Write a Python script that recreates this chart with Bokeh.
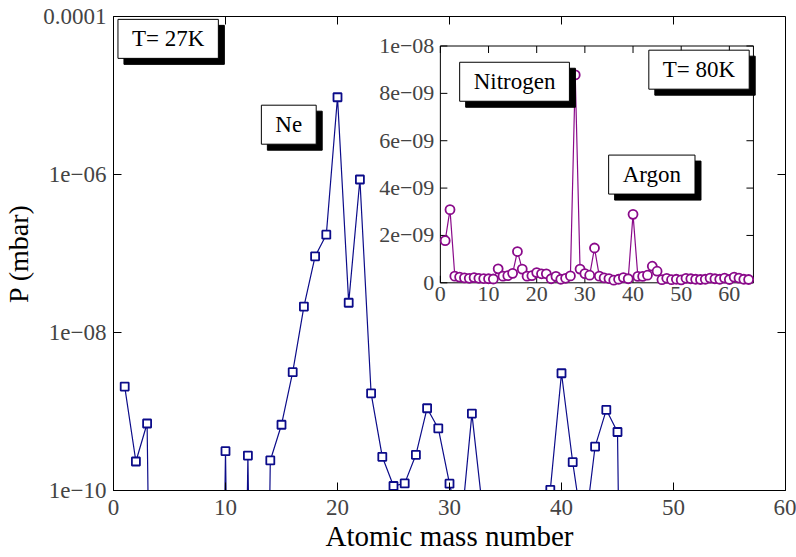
import math

from bokeh.plotting import figure
from bokeh.models import (Range1d, LinearScale, FixedTicker, CustomJSTickFormatter, Label)
from bokeh.embed import file_html
from bokeh.resources import INLINE
from bokeh.core.properties import value

# ---------------- data ----------------
# Mass spectrum at T = 27 K (log axis); 1e-20 marks channels below the detection floor
mass_27K = list(range(1, 61))
p_27K = [
    2.07e-9, 2.33e-10, 7.05e-10, 1e-20, 1e-20, 1e-20, 1e-20, 1e-20, 1e-20, 3.15e-10,
    1e-20, 2.77e-10, 1e-20, 2.4e-10, 6.8e-10, 3.15e-9, 2.13e-8, 9.2e-8, 1.73e-7, 9.5e-6,
    2.38e-8, 8.65e-7, 1.7e-9, 2.67e-10, 1.14e-10, 1.23e-10, 2.83e-10, 1.1e-9, 6.1e-10, 1.22e-10,
    3e-11, 9.4e-10, 5e-11, 1e-20, 1e-20, 1e-20, 1e-20, 1e-20, 1.02e-10, 3.05e-9,
    2.28e-10, 2.5e-11, 3.6e-10, 1.05e-9, 5.5e-10, 1e-20, 1e-20, 1e-20, 1e-20, 1e-20,
    1e-20, 1e-20, 1e-20, 1e-20, 1e-20, 1e-20, 1e-20, 1e-20, 1e-20, 1e-20,
]

# Mass spectrum at T = 80 K (linear inset)
mass_80K = list(range(1, 65))
p_80K = [
    1.78e-9, 3.09e-9, 2.8e-10, 2.4e-10, 2.1e-10, 1.9e-10, 2.2e-10, 1.9e-10, 1.8e-10, 1.7e-10,
    1.6e-10, 5.9e-10, 2.8e-10, 3.0e-10, 4.0e-10, 1.32e-9, 5.8e-10, 2.8e-10, 3.0e-10, 4.3e-10,
    3.8e-10, 3.8e-10, 1.7e-10, 2.7e-10, 1.5e-10, 1.9e-10, 2.9e-10, 8.78e-9, 5.8e-10, 3.9e-10,
    3.2e-10, 1.47e-9, 2.8e-10, 2.1e-10, 1.8e-10, 1.1e-10, 1.5e-10, 2.2e-10, 1.7e-10, 2.89e-9,
    2.7e-10, 2.7e-10, 3.2e-10, 7.0e-10, 4.9e-10, 1.3e-10, 1.9e-10, 1.3e-10, 1.5e-10, 1.2e-10,
    1.9e-10, 1.7e-10, 1.5e-10, 1.4e-10, 1.5e-10, 2.0e-10, 1.7e-10, 1.5e-10, 2.0e-10, 1.4e-10,
    2.4e-10, 2.0e-10, 1.5e-10, 1.4e-10,
]

main_x_range = (0, 60)
main_y_range = (1e-10, 1e-4)
main_x_ticks = [0, 10, 20, 30, 40, 50, 60]
main_y_ticks = [1e-10, 1e-8, 1e-6, 1e-4]
main_y_tick_labels = ["1e\u221210", "1e\u221208", "1e\u221206", "0.0001"]

inset_x_range = (0, 65)
inset_y_range = (0, 1e-8)
inset_x_ticks = [0, 10, 20, 30, 40, 50, 60]
inset_x_tick_labels = ["0", "10", "20", "30", "40", "50", "60"]
inset_y_ticks = [0, 2e-9, 4e-9, 6e-9, 8e-9, 1e-8]
inset_y_tick_labels = ["0", "2e\u221209", "4e\u221209", "6e\u221209", "8e\u221209", "1e\u221208"]

# ---------------- styling / layout ----------------
FONT = "Liberation Serif"
NAVY = "#0c0c8a"
PURPLE = "#8a0a8a"
TICK_GRAY = "#444444"

W, H = 796, 557
BORDER_L, BORDER_R, BORDER_T, BORDER_B = 108, 11, 16, 67
frame_l, frame_r = BORDER_L, W - BORDER_R
frame_t, frame_b = BORDER_T, H - BORDER_B

# inset frame, in canvas pixels
ins_l, ins_r, ins_t, ins_b = 437.3, 752.7, 45.5, 282.3

p = figure(width=W, height=H, y_axis_type="log",
           x_range=Range1d(*main_x_range), y_range=Range1d(*main_y_range),
           output_backend="svg", toolbar_location=None, title=None,
           min_border_left=BORDER_L, min_border_right=BORDER_R,
           min_border_top=BORDER_T, min_border_bottom=BORDER_B)
p.background_fill_color = "white"
p.border_fill_color = "white"
p.outline_line_color = "black"
p.xgrid.visible = False
p.ygrid.visible = False

y_formatter = CustomJSTickFormatter(
    args=dict(tvals=main_y_ticks, tlabels=main_y_tick_labels),
    code="""
const i = tvals.findIndex(t => Math.abs(Math.log10(t) - Math.log10(tick)) < 1e-6);
return i >= 0 ? tlabels[i] : "";
""")


def style_axis(ax):
    ax.axis_line_color = "black"
    ax.major_tick_in = 8
    ax.major_tick_out = 0
    ax.minor_tick_line_color = None
    ax.major_tick_line_color = "black"
    ax.major_label_text_font = FONT
    ax.major_label_text_font_size = "23px"
    ax.major_label_text_color = TICK_GRAY
    ax.axis_label_text_font = FONT
    ax.axis_label_text_font_style = "normal"
    ax.axis_label_text_color = "black"


xa = p.xaxis[0]
style_axis(xa)
xa.ticker = FixedTicker(ticks=main_x_ticks)
xa.axis_label = "Atomic mass number"
xa.axis_label_text_font_size = "29px"
xa.major_label_standoff = 9
xa.axis_label_standoff = 2

ya = p.yaxis[0]
style_axis(ya)
ya.ticker = FixedTicker(ticks=main_y_ticks)
ya.formatter = y_formatter
ya.axis_label = "P (mbar)"
ya.axis_label_text_font_size = "28px"
ya.major_label_standoff = 7
ya.axis_label_standoff = 6

# mirrored inward ticks on the top and right edges of the main frame
main_tick = dict(length=8, length_units="screen", line_color="black", line_width=1)
p.ray(x=main_x_ticks, y=[main_y_range[1]] * len(main_x_ticks), angle=-math.pi / 2, **main_tick)
p.ray(x=[main_x_range[1]] * len(main_y_ticks), y=main_y_ticks, angle=math.pi, **main_tick)

# main spectrum
p.line(mass_27K, p_27K, line_color=NAVY, line_width=1.2)
p.scatter(mass_27K, p_27K, marker="square", size=8, fill_color="white",
          line_color=NAVY, line_width=1.8)

# ---------------- inset (own linear scales mapped into the frame) ----------------
ix_per_px = (inset_x_range[1] - inset_x_range[0]) / (ins_r - ins_l)
iy_per_px = (inset_y_range[1] - inset_y_range[0]) / (ins_b - ins_t)
p.extra_x_ranges = {"inset": Range1d(inset_x_range[0] - (ins_l - frame_l) * ix_per_px,
                                     inset_x_range[1] + (frame_r - ins_r) * ix_per_px)}
p.extra_y_ranges = {"inset": Range1d(inset_y_range[0] - (frame_b - ins_b) * iy_per_px,
                                     inset_y_range[1] + (ins_t - frame_t) * iy_per_px)}
p.extra_x_scales = {"inset": LinearScale()}
p.extra_y_scales = {"inset": LinearScale()}
IN = dict(x_range_name="inset", y_range_name="inset")

p.quad(left=inset_x_range[0], right=inset_x_range[1], bottom=inset_y_range[0],
       top=inset_y_range[1], fill_color="white", line_color="black", line_width=1, **IN)

# inset ticks: bottom, top, left, right (pointing inward)
nx, ny = len(inset_x_ticks), len(inset_y_ticks)
tick_kw = dict(length=7, length_units="screen", line_color="black", line_width=1, **IN)
p.ray(x=inset_x_ticks, y=[inset_y_range[0]] * nx, angle=math.pi / 2, **tick_kw)
p.ray(x=inset_x_ticks, y=[inset_y_range[1]] * nx, angle=-math.pi / 2, **tick_kw)
p.ray(x=[inset_x_range[0]] * ny, y=inset_y_ticks, angle=0, **tick_kw)
p.ray(x=[inset_x_range[1]] * ny, y=inset_y_ticks, angle=math.pi, **tick_kw)

# inset tick labels
p.text(x=inset_x_ticks, y=[inset_y_range[0]] * nx, text=inset_x_tick_labels,
       text_align="center", text_baseline="top", y_offset=4,
       text_font=value(FONT), text_font_size="22px", text_color=TICK_GRAY, **IN)
p.text(x=[inset_x_range[0]] * ny, y=inset_y_ticks, text=inset_y_tick_labels,
       text_align="right", text_baseline="middle", x_offset=-6,
       text_font=value(FONT), text_font_size="22px", text_color=TICK_GRAY, **IN)

# inset spectrum
p.line(mass_80K, p_80K, line_color=PURPLE, line_width=1.2, **IN)
p.scatter(mass_80K, p_80K, marker="circle", size=9, fill_color="white",
          line_color=PURPLE, line_width=1.8, **IN)


# ---------------- boxed labels with drop shadow ----------------
def boxed_label(text, x, y, **ranges):
    common = dict(x=x, y=y, text=text, text_align="center", text_baseline="middle",
                  text_font=FONT, text_font_size="23px", padding=(14, 7),
                  border_line_color="black", border_line_width=1, **ranges)
    shadow = Label(x_offset=6, y_offset=-6, text_color="black",
                   background_fill_color="black", **common)
    box = Label(text_color="black", background_fill_color="white", **common)
    p.add_layout(shadow)
    p.add_layout(box)


boxed_label("T= 27K", 4.88, 5.21e-5)
boxed_label("Ne", 15.65, 4.27e-6)
boxed_label("Nitrogen", 15.4, 8.49e-9, **IN)
boxed_label("T= 80K", 53.7, 9.0e-9, **IN)
boxed_label("Argon", 43.9, 4.57e-9, **IN)

open("out.html", "w").write(file_html(p, INLINE))
